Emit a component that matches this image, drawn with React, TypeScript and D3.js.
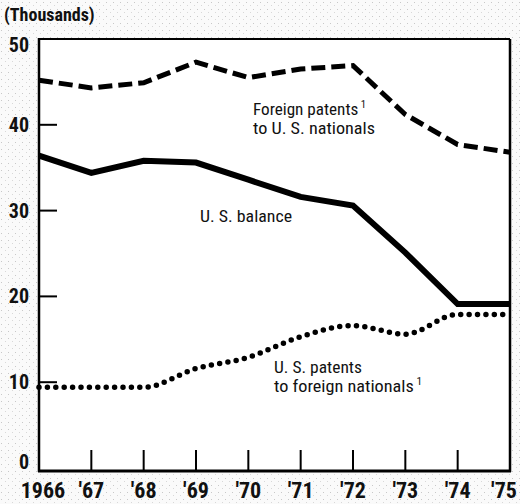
import React from "react";
import * as d3 from "d3";

const years = [1966, 1967, 1968, 1969, 1970, 1971, 1972, 1973, 1974, 1975];
const yearLabels = ["1966", "'67", "'68", "'69", "'70", "'71", "'72", "'73", "'74", "'75"];
const foreignPatents = [45.2, 44.3, 44.9, 47.3, 45.5, 46.5, 46.9, 41.2, 37.7, 36.8];
const usBalance = [36.4, 34.4, 35.8, 35.6, 33.6, 31.6, 30.6, 25.1, 19.1, 19.1];
const usPatents = [9.4, 9.4, 9.4, 11.6, 12.9, 15.3, 16.6, 15.6, 17.9, 17.9];
const yTicks = [0, 10, 20, 30, 40, 50];

const W = 520;
const H = 504;
const L = 39, R = 510, T = 39, B = 468;
const FONT = "'Liberation Sans Narrow', 'Roboto Condensed', 'DejaVu Sans Condensed', Arial, sans-serif";

export default function App() {
  const x = d3.scaleLinear().domain([1966, 1975]).range([L, R]);
  const y = d3.scaleLinear().domain([0, 50]).range([B, T]);
  const line = (vals: number[], curve = d3.curveLinear) =>
    d3.line<number>().x((_, i) => x(years[i])).y((d) => y(d)).curve(curve)(vals) || "";

  const lbl = (tx: number, ty: number, s: string, len: number, sup = false) => (
    <text x={tx} y={ty} textLength={len} lengthAdjust="spacingAndGlyphs">
      {s}
      {sup ? <tspan fontSize={10} dy={-7}>{" 1"}</tspan> : null}
    </text>
  );

  const yOff = (t: number) => (t === 50 ? 13 : t === 0 ? 1 : 7);

  return (
    <svg width={W} height={H} style={{ position: "absolute", left: 0, top: 0 }}>
      <defs>
        <pattern id="stip" width="7" height="7" patternUnits="userSpaceOnUse">
          <rect width="7" height="7" fill="#fafafa" />
          <rect x="1" y="2" width="1" height="1" fill="#c8c8c8" />
          <rect x="5" y="5" width="1" height="1" fill="#d8d8d8" />
        </pattern>
      </defs>
      <rect x={0} y={0} width={W} height={H} fill="url(#stip)" />
      <rect x={L} y={T} width={R - L} height={471 - T} fill="#ffffff" />
      {/* frame */}
      <line x1={L} x2={R} y1={T} y2={T} stroke="#000" strokeWidth={2} />
      <line x1={R} x2={R} y1={T} y2={472} stroke="#000" strokeWidth={2.5} />
      <line x1={L} x2={L} y1={T - 1} y2={472} stroke="#000" strokeWidth={2.5} />
      <line x1={L - 1} x2={R + 1} y1={471} y2={471} stroke="#000" strokeWidth={3} />
      {/* y ticks */}
      {yTicks.filter((t) => t > 0 && t < 50).map((t) => (
        <line key={"yt" + t} x1={L} x2={L + 18} y1={y(t)} y2={y(t)} stroke="#000" strokeWidth={2} />
      ))}
      {yTicks.map((t) => (
        <text key={"yl" + t} x={29} y={y(t) + yOff(t)} textAnchor="end" fontFamily={FONT} fontWeight="bold" fontSize={20} fill="#111">
          {t}
        </text>
      ))}
      {/* x ticks */}
      {years.slice(1, -1).map((yr) => (
        <line key={"xt" + yr} x1={x(yr)} x2={x(yr)} y1={471} y2={450} stroke="#000" strokeWidth={2} />
      ))}
      {years.map((yr, i) => (
        <text key={"xl" + yr} x={i === 0 ? 43 : i === years.length - 1 ? x(yr) - 6 : x(yr)} y={498} textAnchor="middle" fontFamily={FONT} fontWeight="bold" fontSize={22} fill="#111">
          {yearLabels[i]}
        </text>
      ))}
      <text x={4} y={21} fontFamily={FONT} fontWeight="bold" fontSize={18} fill="#111">(Thousands)</text>
      {/* series */}
      <path d={line(foreignPatents)} fill="none" stroke="#000" strokeWidth={5} strokeDasharray="14 6" />
      <path d={line(usBalance)} fill="none" stroke="#000" strokeWidth={6} strokeLinejoin="miter" />
      <path d={line(usPatents, d3.curveMonotoneX)} fill="none" stroke="#000" strokeWidth={5.5} strokeDasharray="0 8.4" strokeLinecap="round" />
      {/* labels */}
      <g fontFamily={FONT} fontSize={16} fill="#111">
        {lbl(253, 115, "Foreign patents", 113, true)}
        {lbl(253, 134, "to U. S. nationals", 122)}
        {lbl(200, 222, "U. S. balance", 92)}
        {lbl(274, 373, "U. S. patents", 88)}
        {lbl(274, 392, "to foreign nationals", 148, true)}
      </g>
    </svg>
  );
}
